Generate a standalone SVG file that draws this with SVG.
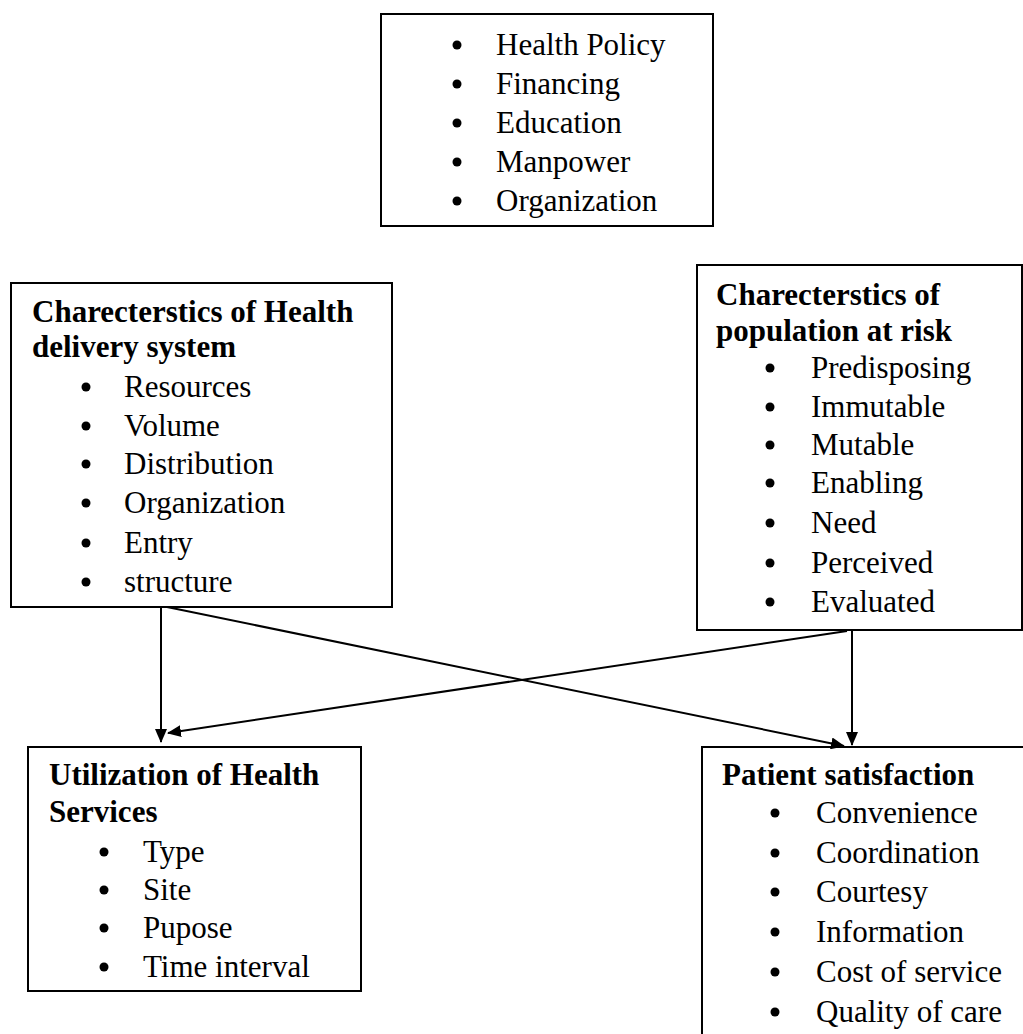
<svg xmlns="http://www.w3.org/2000/svg" width="1023" height="1034" viewBox="0 0 1023 1034">
<style>
.box{fill:#fff;stroke:#000;stroke-width:2}
.t{font-family:"Liberation Serif","Times New Roman",serif;font-size:31px;fill:#000}
.b{font-weight:bold}
.dot{fill:#000}
.con{stroke:#000;stroke-width:2;fill:none;marker-end:url(#ah)}
</style>
<defs>
<marker id="ah" viewBox="0 0 14 12" refX="13" refY="6" markerWidth="14" markerHeight="12" markerUnits="userSpaceOnUse" orient="auto">
<path d="M0,0 L14,6 L0,12 Z" fill="#000"/>
</marker>
</defs>
<rect width="1023" height="1034" fill="#fff"/>

<g id="node-top">
<rect class="box" x="381" y="14" width="332" height="212"/>
<circle class="dot" cx="457" cy="45" r="4.5"/><text class="t" x="496" y="55">Health Policy</text>
<circle class="dot" cx="457" cy="84" r="4.5"/><text class="t" x="496" y="94">Financing</text>
<circle class="dot" cx="457" cy="123" r="4.5"/><text class="t" x="496" y="133">Education</text>
<circle class="dot" cx="457" cy="162" r="4.5"/><text class="t" x="496" y="172">Manpower</text>
<circle class="dot" cx="457" cy="201" r="4.5"/><text class="t" x="496" y="211">Organization</text>
</g>

<g id="node-delivery">
<rect class="box" x="11" y="283" width="381" height="324"/>
<text class="t b" x="32" y="322">Charecterstics of Health</text>
<text class="t b" x="32" y="357">delivery system</text>
<circle class="dot" cx="86" cy="387" r="4.5"/><text class="t" x="124" y="397">Resources</text>
<circle class="dot" cx="86" cy="426" r="4.5"/><text class="t" x="124" y="436">Volume</text>
<circle class="dot" cx="86" cy="464" r="4.5"/><text class="t" x="124" y="474">Distribution</text>
<circle class="dot" cx="86" cy="503" r="4.5"/><text class="t" x="124" y="513">Organization</text>
<circle class="dot" cx="86" cy="543" r="4.5"/><text class="t" x="124" y="553">Entry</text>
<circle class="dot" cx="86" cy="582" r="4.5"/><text class="t" x="124" y="592">structure</text>
</g>

<g id="node-population">
<rect class="box" x="697" y="265" width="325" height="365"/>
<text class="t b" x="716" y="305">Charecterstics of</text>
<text class="t b" x="716" y="341">population at risk</text>
<circle class="dot" cx="770" cy="368" r="4.5"/><text class="t" x="811" y="378">Predisposing</text>
<circle class="dot" cx="770" cy="407" r="4.5"/><text class="t" x="811" y="417">Immutable</text>
<circle class="dot" cx="770" cy="445" r="4.5"/><text class="t" x="811" y="455">Mutable</text>
<circle class="dot" cx="770" cy="483" r="4.5"/><text class="t" x="811" y="493">Enabling</text>
<circle class="dot" cx="770" cy="523" r="4.5"/><text class="t" x="811" y="533">Need</text>
<circle class="dot" cx="770" cy="563" r="4.5"/><text class="t" x="811" y="573">Perceived</text>
<circle class="dot" cx="770" cy="602" r="4.5"/><text class="t" x="811" y="612">Evaluated</text>
</g>

<g id="node-utilization">
<rect class="box" x="28" y="747" width="333" height="244"/>
<text class="t b" x="49" y="785">Utilization of Health</text>
<text class="t b" x="49" y="822">Services</text>
<circle class="dot" cx="104" cy="852" r="4.5"/><text class="t" x="143" y="862">Type</text>
<circle class="dot" cx="104" cy="890" r="4.5"/><text class="t" x="143" y="900">Site</text>
<circle class="dot" cx="104" cy="928" r="4.5"/><text class="t" x="143" y="938">Pupose</text>
<circle class="dot" cx="104" cy="967" r="4.5"/><text class="t" x="143" y="977">Time interval</text>
</g>

<g id="node-satisfaction">
<rect class="box" x="702" y="747" width="330" height="300"/>
<text class="t b" x="722" y="785">Patient satisfaction</text>
<circle class="dot" cx="775" cy="813" r="4.5"/><text class="t" x="816" y="823">Convenience</text>
<circle class="dot" cx="775" cy="853" r="4.5"/><text class="t" x="816" y="863">Coordination</text>
<circle class="dot" cx="775" cy="892" r="4.5"/><text class="t" x="816" y="902">Courtesy</text>
<circle class="dot" cx="775" cy="932" r="4.5"/><text class="t" x="816" y="942">Information</text>
<circle class="dot" cx="775" cy="972" r="4.5"/><text class="t" x="816" y="982">Cost of service</text>
<circle class="dot" cx="775" cy="1012" r="4.5"/><text class="t" x="816" y="1022">Quality of care</text>
</g>

<g id="connectors">
<line class="con" x1="161" y1="607" x2="161" y2="742"/>
<line class="con" x1="167" y1="607" x2="844" y2="746"/>
<line class="con" x1="847" y1="631" x2="168" y2="733"/>
<line class="con" x1="852" y1="631" x2="852" y2="745"/>
</g>
</svg>
